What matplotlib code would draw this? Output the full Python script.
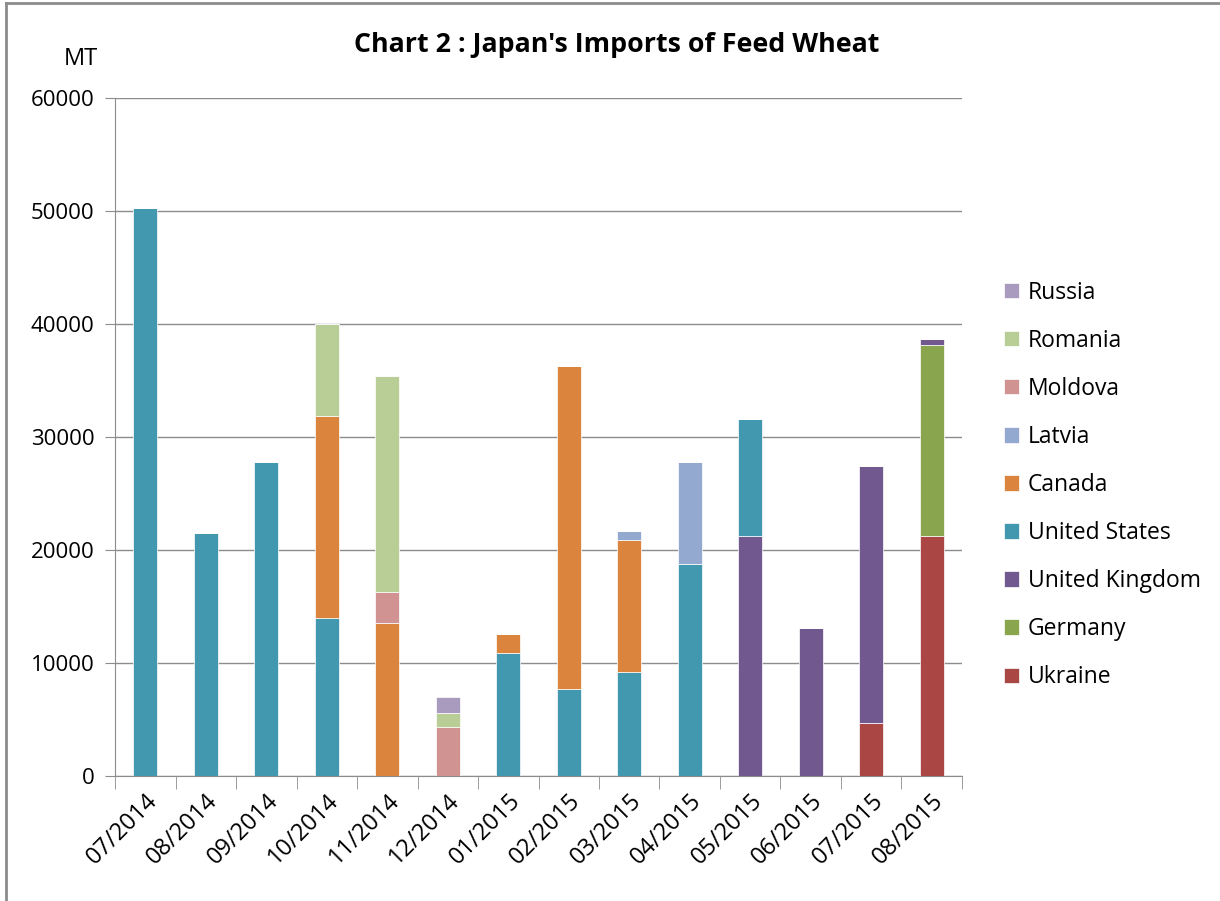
import numpy as np
import matplotlib.pyplot as plt
from matplotlib.lines import Line2D

months = ["07/2014", "08/2014", "09/2014", "10/2014", "11/2014", "12/2014", "01/2015",
          "02/2015", "03/2015", "04/2015", "05/2015", "06/2015", "07/2015", "08/2015"]

# stacked bottom -> top
ukraine = [0, 0, 0, 0, 0, 0, 0, 0, 0, 0, 0, 0, 4700, 21200]
germany = [0, 0, 0, 0, 0, 0, 0, 0, 0, 0, 0, 0, 0, 16900]
united_kingdom = [0, 0, 0, 0, 0, 0, 0, 0, 0, 0, 21200, 13100, 22700, 600]
united_states = [50300, 21500, 27800, 14000, 0, 0, 10900, 7700, 9200, 18800, 10400, 0, 0, 0]
canada = [0, 0, 0, 17900, 13500, 0, 1700, 28600, 11700, 0, 0, 0, 0, 0]
latvia = [0, 0, 0, 0, 0, 0, 0, 0, 800, 9000, 0, 0, 0, 0]
moldova = [0, 0, 0, 0, 2800, 4300, 0, 0, 0, 0, 0, 0, 0, 0]
romania = [0, 0, 0, 8100, 19100, 1300, 0, 0, 0, 0, 0, 0, 0, 0]
russia = [0, 0, 0, 0, 0, 1400, 0, 0, 0, 0, 0, 0, 0, 0]

series = [
    ("Ukraine", ukraine, "#AA4643"),
    ("Germany", germany, "#89A54E"),
    ("United Kingdom", united_kingdom, "#71588F"),
    ("United States", united_states, "#4198AF"),
    ("Canada", canada, "#DB843D"),
    ("Latvia", latvia, "#93A9CF"),
    ("Moldova", moldova, "#D19392"),
    ("Romania", romania, "#B9CD96"),
    ("Russia", russia, "#A99BBD"),
]

plt.rcParams["font.family"] = ["Open Sans", "DejaVu Sans"]

fig = plt.figure(figsize=(12.2, 9.01), dpi=100)
ax = fig.add_axes([0.0943, 0.1387, 0.6942, 0.7525])

x = np.arange(len(months))
bottom = np.zeros(len(months))
handles = []
for name, vals, color in series:
    vals = np.array(vals, dtype=float)
    b = ax.bar(x, vals, width=0.4, bottom=bottom, color=color, label=name,
               edgecolor="white", linewidth=0.5, zorder=3)
    handles.append(b)
    bottom += vals

ax.set_xlim(-0.5, len(months) - 0.5)
ax.set_ylim(0, 60000)
ax.set_yticks(np.arange(0, 60001, 10000))
ax.yaxis.grid(True, color="#8C8C8C", linewidth=1.0, zorder=0)
ax.tick_params(axis="y", labelsize=16, length=7, color="#8C8C8C", pad=8)

ax.set_xticks(x)
ax.set_xticklabels(months, rotation=45, ha="right", rotation_mode="anchor", fontsize=17)
ax.tick_params(axis="x", length=0, pad=9)
ax.set_xticks(np.arange(-0.5, len(months)), minor=True)
ax.tick_params(axis="x", which="minor", length=9, color="#8C8C8C")

for s in ["top", "right"]:
    ax.spines[s].set_visible(False)
ax.spines["left"].set_color("#8C8C8C")
ax.spines["bottom"].set_color("#8C8C8C")

fig.text(0.5057, 0.950, "Chart 2 : Japan's Imports of Feed Wheat", ha="center", va="center",
         fontsize=19.3, fontweight="bold")
fig.text(0.066, 0.934, "MT", ha="center", va="center", fontsize=17)

leg = fig.legend(handles[::-1], [s[0] for s in series][::-1], loc="center left",
                 bbox_to_anchor=(0.806, 0.4617), frameon=False, fontsize=16.5,
                 handlelength=0.65, handleheight=0.65, labelspacing=1.05, handletextpad=0.4)

# chart border (left and top edges visible in the reference)
fig.add_artist(Line2D([0.005, 0.005], [0.0, 0.997], transform=fig.transFigure,
                      color="#8C8C8C", linewidth=2))
fig.add_artist(Line2D([0.005, 1.0], [0.997, 0.997], transform=fig.transFigure,
                      color="#8C8C8C", linewidth=2))

fig.savefig("out.png", dpi=100)
